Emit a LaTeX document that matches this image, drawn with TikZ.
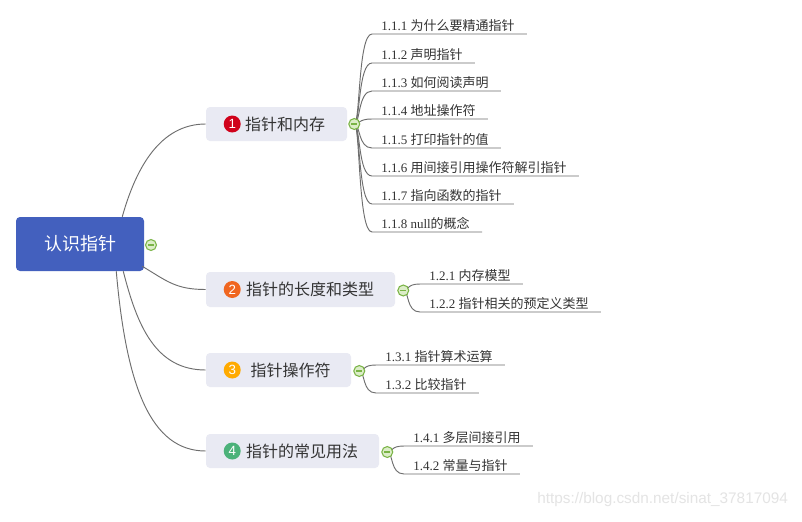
\documentclass[tikz,border=0pt]{standalone}
\usepackage{fontspec}
\setmainfont{Liberation Serif}
\newfontfamily\cjk{Noto Sans CJK SC}
\newfontfamily\wmfont{Liberation Sans}
\usetikzlibrary{calc}
\definecolor{rootblue}{RGB}{67,96,190}
\definecolor{boxgray}{RGB}{233,234,243}
\definecolor{linegray}{RGB}{110,110,110}
\definecolor{txtgray}{RGB}{51,51,51}
\definecolor{foldfill}{RGB}{220,237,200}
\definecolor{foldline}{RGB}{122,180,70}
\definecolor{cred}{RGB}{208,2,27}
\definecolor{corange}{RGB}{240,102,32}
\definecolor{camber}{RGB}{255,170,0}
\definecolor{cgreen}{RGB}{76,178,122}
\definecolor{wmgray}{RGB}{228,228,228}
\tikzset{
  rootbox/.style={fill=rootblue, rounded corners=3pt, text=white, font=\cjk\fontsize{13.5}{16}\selectfont, minimum width=96pt, minimum height=40.5pt, inner sep=0pt},
  branchbox/.style={fill=boxgray, rounded corners=3pt, minimum height=25.5pt, inner sep=0pt},
  branchtext/.style={anchor=west, inner sep=0pt, text=txtgray, font=\cjk\fontsize{12}{14}\selectfont},
  numcirc/.style={circle, fill=#1, text=white, minimum size=12.75pt, inner sep=0pt, font=\wmfont\fontsize{10}{12}\selectfont},
  childtext/.style={anchor=base west, inner sep=0pt, text=txtgray, font=\fontsize{9.75}{12}\selectfont},
  conn/.style={draw=linegray, line width=0.7pt},
  fold/.style={circle, draw=foldline, fill=foldfill, line width=0.8pt, minimum size=8.2pt, inner sep=0pt,
    path picture={\draw[foldline, line width=1pt] ($(path picture bounding box.center)+(-2.4pt,0)$) -- ($(path picture bounding box.center)+(2.4pt,0)$);}}
}
\begin{document}
\begin{tikzpicture}[x=0.75pt,y=-0.75pt]
\useasboundingbox[fill=white] (0,0) rectangle (802,521);

% root
\node[rootbox] (root) at (80,244) {认识指针};
\coordinate (f0) at (151,245);

% branch boxes
\node[branchbox, minimum width=105.75pt] (b1) at (276.5,124) {};
\node[branchbox, minimum width=141.75pt, minimum height=26.25pt] (b2) at (300.5,289.5) {};
\node[branchbox, minimum width=108.75pt] (b3) at (278.5,370) {};
\node[branchbox, minimum width=129.75pt] (b4) at (292.5,451) {};

\node[numcirc=cred] (n1) at ($(b1.west)+(26.5,0)$) {1};
\node[numcirc=corange] (n2) at ($(b2.west)+(26.5,0)$) {2};
\node[numcirc=camber] (n3) at ($(b3.west)+(26.5,0)$) {3};
\node[numcirc=cgreen] (n4) at ($(b4.west)+(26.5,0)$) {4};

\node[branchtext] (t1) at ($(b1.west)+(39,0)$) {指针和内存};
\node[branchtext] (t2) at ($(b2.west)+(40,0)$) {指针的长度和类型};
\node[branchtext] (t3) at ($(b3.west)+(44.5,0)$) {指针操作符};
\node[branchtext] (t4) at ($(b4.west)+(40,0)$) {指针的常见用法};

% root connectors
\coordinate (s1) at ($(root.north east)+(-22,0)$);
\coordinate (s2) at ($(root.south east)+(-2,-5)$);
\coordinate (s3) at ($(root.south east)+(-21,0)$);
\coordinate (s4) at ($(root.south east)+(-28,0)$);
\draw[conn] (s1) .. controls +(14,-50) and +(-45,0) .. (b1.west);
\draw[conn] (s2) .. controls +(25,15) and +(-30,0) .. (b2.west);
\draw[conn] (s3) .. controls +(14,55) and +(-50,0) .. (b3.west);
\draw[conn] (s4) .. controls +(10,115) and +(-55,0) .. (b4.west);

% fold points
\coordinate (f1) at ($(b1.east)+(7,0)$);
\coordinate (f2) at ($(b2.east)+(8,1)$);
\coordinate (f3) at ($(b3.east)+(8,1)$);
\coordinate (f4) at ($(b4.east)+(8,1)$);

% children of branch 1
\node[childtext] (c11) at (381,30) {1.1.1 {\cjk 为什么要精通指针}};
\node[childtext] (c12) at (381,59) {1.1.2 {\cjk 声明指针}};
\node[childtext] (c13) at (381,87) {1.1.3 {\cjk 如何阅读声明}};
\node[childtext] (c14) at (381,115) {1.1.4 {\cjk 地址操作符}};
\node[childtext] (c15) at (381,144) {1.1.5 {\cjk 打印指针的值}};
\node[childtext] (c16) at (381,172) {1.1.6 {\cjk 用间接引用操作符解引指针}};
\node[childtext] (c17) at (381,200) {1.1.7 {\cjk 指向函数的指针}};
\node[childtext] (c18) at (381,228) {1.1.8 null{\cjk 的概念}};

% children of branch 2
\node[childtext] (c21) at (429,280) {1.2.1 {\cjk 内存模型}};
\node[childtext] (c22) at (429,308) {1.2.2 {\cjk 指针相关的预定义类型}};

% children of branch 3
\node[childtext] (c31) at (385,361) {1.3.1 {\cjk 指针算术运算}};
\node[childtext] (c32) at (385,389) {1.3.2 {\cjk 比较指针}};

% children of branch 4
\node[childtext] (c41) at (413,442) {1.4.1 {\cjk 多层间接引用}};
\node[childtext] (c42) at (413,470) {1.4.2 {\cjk 常量与指针}};

% connectors and underlines
\foreach \f/\c in {f1/c11,f1/c12,f1/c13,f1/c14,f1/c15,f1/c16,f1/c17,f1/c18,f2/c21,f2/c22,f3/c31,f3/c32,f4/c41,f4/c42}{
  \draw[conn] (\f) .. controls +(6,0) and +(-14,0) .. ($(\c.base west)+(-9,4)$) -- ($(\c.base east)+(12,4)$);
}

% fold icons
\node[fold] at (f0) {};
\node[fold] at (f1) {};
\node[fold] at (f2) {};
\node[fold] at (f3) {};
\node[fold] at (f4) {};

% watermark
\node[anchor=west, inner sep=0pt, text=wmgray, font=\wmfont\fontsize{11.5}{13}\selectfont] (wm) at (537,500) {https://blog.csdn.net/sinat\_37817094};
\end{tikzpicture}
\end{document}
